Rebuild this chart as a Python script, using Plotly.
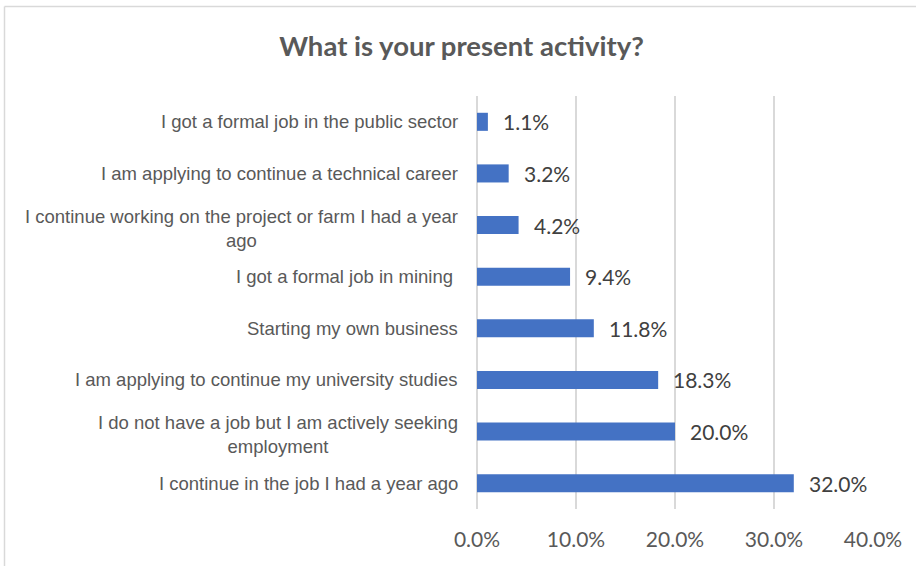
import plotly.graph_objects as go

# Survey responses, top to bottom as listed
categories = [
    "I got a formal job in the public sector",
    "I am applying to continue a technical career",
    "I continue working on the project or farm I had a year<br>ago",
    "I got a formal job in mining ",
    "Starting my own business",
    "I am applying to continue my university studies",
    "I do not have a job but I am actively seeking<br>employment",
    "I continue in the job I had a year ago",
]
shares = [0.011, 0.032, 0.042, 0.094, 0.118, 0.183, 0.200, 0.320]
value_labels = ["1.1%", "3.2%", "4.2%", "9.4%", "11.8%", "18.3%", "20.0%", "32.0%"]
x_ticks = [0.0, 0.1, 0.2, 0.3, 0.4]
x_tick_labels = ["0.0%", "10.0%", "20.0%", "30.0%", "40.0%"]

title_text = "What is your present activity?"

W, H = 916, 566
M_L, M_R, M_T, M_B = 477, 43, 96, 57

BAR_COLOR = "#4472C4"
GRID_COLOR = "#D9D9D9"
TEXT_GRAY = "#595959"
VALUE_GRAY = "#404040"
NARROW_FONT = "Liberation Sans Narrow, Arial Narrow, Liberation Sans, Arial, sans-serif"
NUM_FONT = "Lato, Carlito, Calibri, sans-serif"

ids = list(range(len(categories)))

fig = go.Figure(
    go.Bar(
        x=shares,
        y=ids,
        orientation="h",
        marker=dict(color=BAR_COLOR, line=dict(width=0)),
        hoverinfo="skip",
    )
)

annotations = []

# Category labels to the left of the plot area, wrapped lines centred
for idx, label in zip(ids, categories):
    two_line = "<br>" in label
    annotations.append(dict(
        x=0, xref="paper", xanchor="right",
        y=idx, yref="y", yanchor="middle",
        xshift=-17,
        yshift=-3 if two_line else 0,
        text=label, showarrow=False, align="center",
        font=dict(family=NARROW_FONT, size=18.5, color=TEXT_GRAY),
    ))

# Value labels just past each bar end
for idx, v, lab in zip(ids, shares, value_labels):
    annotations.append(dict(
        x=v, xref="x", xanchor="left",
        y=idx, yref="y", yanchor="middle",
        xshift=13, text=lab, showarrow=False,
        font=dict(family=NUM_FONT, size=21, color=VALUE_GRAY),
    ))

fig.update_layout(
    width=W, height=H,
    margin=dict(l=M_L, r=M_R, t=M_T, b=M_B),
    paper_bgcolor="white",
    plot_bgcolor="white",
    showlegend=False,
    bargap=0.65,
    title=dict(
        text="<b>" + title_text + "</b>",
        x=461.5 / W, xref="container", xanchor="center",
        y=1 - 46 / H, yref="container", yanchor="middle",
        font=dict(family=NUM_FONT, size=27.5, color=TEXT_GRAY),
    ),
    xaxis=dict(
        range=[0, 0.4],
        tickvals=x_ticks,
        ticktext=x_tick_labels,
        showgrid=True, gridcolor=GRID_COLOR, gridwidth=1.5,
        zeroline=True, zerolinecolor=GRID_COLOR, zerolinewidth=1.5,
        showline=False, ticks="",
        ticklabelstandoff=16,
        tickfont=dict(family=NUM_FONT, size=21, color=TEXT_GRAY),
        fixedrange=True,
    ),
    yaxis=dict(
        range=[len(categories) - 0.5, -0.5],
        showticklabels=False, showgrid=False, zeroline=False,
        showline=False, ticks="", fixedrange=True,
    ),
    annotations=annotations,
)

# Chart frame: top and left edges
px_w = W - M_L - M_R
px_h = H - M_T - M_B
def fx(px):
    return (px - M_L) / px_w
def fy(py):
    return 1 - (py - M_T) / px_h

fig.add_shape(type="line", xref="paper", yref="paper",
              x0=fx(4.5), x1=fx(W + 2), y0=fy(6.5), y1=fy(6.5),
              line=dict(color=GRID_COLOR, width=1.5), layer="below")
fig.add_shape(type="line", xref="paper", yref="paper",
              x0=fx(4.5), x1=fx(4.5), y0=fy(6.5), y1=fy(H + 2),
              line=dict(color=GRID_COLOR, width=1.5), layer="below")

fig.write_html("out.html", config={"displayModeBar": False})
